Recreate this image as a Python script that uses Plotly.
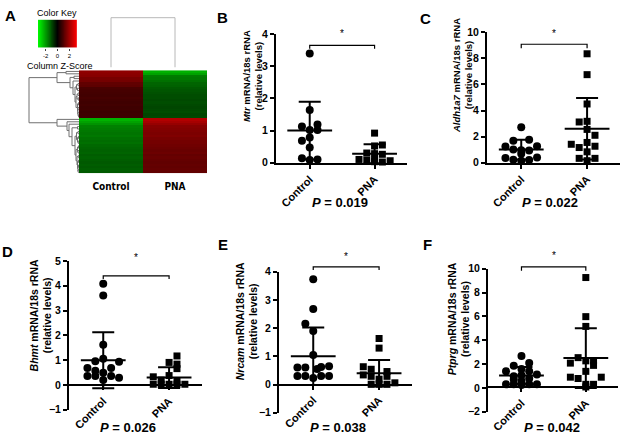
import numpy as np
import plotly.graph_objects as go

W, H = 625, 445
FONT = "Liberation Sans, Arial, sans-serif"
NARROW = "Liberation Sans Narrow, DejaVu Sans Condensed, Liberation Sans, Arial"

def px(x):
    return x / W

def py(y):
    return 1 - y / H

# ---------------- Panel A data (heatmap) ----------------
hm_cols = ["Control", "PNA"]
ctrl_top = [1.85, 1.8, 1.75, 1.55, 1.5, 1.25, 1.2, 0.95, 0.9, 0.88, 0.85, 0.9, 0.85, 0.82, 0.85, 0.8, 0.82, 0.78, 0.8, 0.8]
pna_top = [-2.3, -2.1, -1.6, -1.55, -1.45, -1.3, -1.25, -1.15, -1.1, -1.05, -1.0, -1.0, -0.95, -1.0, -0.95, -0.9, -0.95, -1.0, -0.9, -0.95]
ctrl_bot = [-2.3, -2.1, -1.9, -1.65, -1.6, -1.55, -1.5, -1.55, -1.45, -1.4, -1.45, -1.35, -1.3, -1.25, -1.3, -1.2, -1.25, -1.2, -1.15, -1.2, -1.15, -1.2, -1.15]
pna_bot = [2.3, 2.15, 1.95, 1.75, 1.7, 1.65, 1.6, 1.65, 1.55, 1.5, 1.5, 1.45, 1.4, 1.35, 1.4, 1.3, 1.35, 1.3, 1.25, 1.3, 1.25, 1.3, 1.25]
key_ticks = [-2, 0, 2]
z_lim = 3.3

# row dendrogram merges: (name, left, right, height); ints are leaf rows
row_merges = [
    ("P", 0, 1, 0.26), ("Q1", 2, 3, 0.10), ("Q4a", 5, 6, 0.02), ("Q4b", 7, 8, 0.03),
    ("Q4", "Q4a", "Q4b", 0.05), ("Q5a1", 9, 10, 0.02), ("Q5a2", 11, 12, 0.015),
    ("Q5a", "Q5a1", "Q5a2", 0.04), ("Q5b1", 13, 14, 0.01), ("Q5b2", 15, 16, 0.02),
    ("Q5b4", 18, 19, 0.01), ("Q5b3", 17, "Q5b4", 0.02), ("Q5b5", "Q5b2", "Q5b3", 0.025),
    ("Q5b", "Q5b1", "Q5b5", 0.03), ("Q5", "Q5a", "Q5b", 0.06), ("Q3", "Q4", "Q5", 0.08),
    ("Q2", 4, "Q3", 0.12), ("Q", "Q1", "Q2", 0.18), ("T", "P", "Q", 0.44),
    ("R5", 23, 24, 0.03), ("R7a", 25, 26, 0.02), ("R7b1", 27, 28, 0.01), ("R7b2", 29, 30, 0.015),
    ("R7b", "R7b1", "R7b2", 0.03), ("R7", "R7a", "R7b", 0.05),
    ("R8a1", 31, 32, 0.01), ("R8a2", 33, 34, 0.02), ("R8a", "R8a1", "R8a2", 0.03),
    ("R8b1", 35, 36, 0.015), ("R8c1", 37, 38, 0.01), ("R8c2", 39, 40, 0.01), ("R8c3", 41, 42, 0.02),
    ("R8c4", "R8c2", "R8c3", 0.02), ("R8c", "R8c1", "R8c4", 0.03), ("R8b", "R8b1", "R8c", 0.04),
    ("R8", "R8a", "R8b", 0.06), ("R6", "R7", "R8", 0.08), ("R4", "R5", "R6", 0.14),
    ("R3", 22, "R4", 0.20), ("R2", 21, "R3", 0.24), ("Bn", 20, "R2", 0.44),
    ("root", "T", "Bn", 1.0),
]
col_merges = [("c", 0, 1, 1.0)]

# ---------------- Panels B-F data ----------------
groups = ["Control", "PNA"]
genes = ["Mtr", "Aldh1a7", "Bhmt", "Nrcam", "Ptprg"]
p_values = ["0.019", "0.022", "0.026", "0.038", "0.042"]

ctrl_B = [3.40, 1.64, 1.13, 1.19, 1.02, 1.02, 0.68, 0.78, 0.47, 0.14, 0.08, 0.10]
ctrl_B_lane = [0, 0, -1, 1, 1, 0, -1, 0, 0, -1, 0, 1]
pna_B = [0.92, 0.55, 0.52, 0.30, 0.28, 0.26, 0.10, 0.08, 0.08, 0.06, 0.03, 0.02]
pna_B_lane = [0, 1, 0, -1, 0, 1, -2, -1, 0, 2, 0, 1]
mean_B = [1.0, 0.28]
sd_B = [0.9, 0.29]

ctrl_C = [2.72, 1.76, 1.68, 1.24, 1.26, 1.0, 0.96, 0.94, 0.68, 0.36, 0.40, 0.22, 0.15, 0.20]
ctrl_C_lane = [0, 1, -1, -2, 2, -1, 0, 1, 0, -2, 2, -1, 0, 1]
pna_C = [8.35, 6.75, 4.5, 3.12, 3.17, 2.55, 2.1, 1.55, 1.41, 1.26, 1.16, 0.83, 0.33, 0.33, 0.15]
pna_C_lane = [0, 0, 0, -1, 0, 0, 1, 0, -2, 1, -1, 0, -1, 1, 0]
mean_C = [1.0, 2.6]
sd_C = [0.75, 2.35]

ctrl_D = [4.08, 3.61, 1.62, 1.06, 0.96, 0.94, 0.68, 0.68, 0.57, 0.49, 0.36, 0.36, 0.36, 0.29, 0.20]
ctrl_D_lane = [0, 0, 0, 0, -1, 2, -2, 1, -1, 0, -2, -1, 1, 2, 0]
pna_D = [1.17, 0.91, 0.84, 0.66, 0.33, 0.38, 0.20, 0.18, 0.03, 0.03, 0.03, 0.03, 0.03]
pna_D_lane = [1, 0, 1, 1, -2, 0, -1, 1, -2, -1, 0, 1, 2]
mean_D = [1.0, 0.30]
sd_D = [1.13, 0.42]

ctrl_E = [3.73, 2.68, 2.15, 1.90, 1.05, 0.60, 0.60, 0.62, 0.65, 0.55, 0.30, 0.30, 0.30, 0.30, 0.23]
ctrl_E_lane = [0, 0, -1, 0, 0, -2, -1, 1, 2, 0.5, -2, -1, 1, 2, 0]
pna_E = [1.63, 1.29, 0.63, 0.54, 0.46, 0.34, 0.29, 0.29, 0.19, 0.06, 0.01, 0.01, 0.01]
pna_E_lane = [0, 0, -2, -1, 1, -2, -1, 1, 0, 2, -1, 0, 1]
mean_E = [1.0, 0.40]
sd_E = [1.02, 0.47]

ctrl_F = [2.68, 2.08, 1.86, 1.58, 1.39, 1.39, 1.07, 0.98, 1.12, 0.79, 0.71, 0.57, 0.30, 0.30, 0.30, 0.30, 0.25]
ctrl_F_lane = [0, 1, -1, 0, 1, -2, 0, -1, 2, 1, -1, 0, -2, -1, 1, 2, 0]
pna_F = [9.26, 5.98, 5.16, 2.54, 2.27, 2.08, 2.27, 1.89, 1.39, 0.79, 0.90, 0.90, 0.30, 0.30, 0.08]
pna_F_lane = [0, 0, 0, -1, 0, -2, 1, 1, 0, -1, -2, 2, 0, 1, 0]
mean_F = [1.05, 2.5]
sd_F = [0.7, 2.5]

bracket_top = [3.65, 9.08, 4.40, 4.17, 10.15]
bracket_drop = [0.10, 0.30, 0.13, 0.11, 0.33]
star_y = [4.02, 9.9, 5.15, 4.52, 11.1]
y_ranges = [[0, 4], [0, 10], [-1, 5], [-1, 4], [-2, 10]]
y_dticks = [1, 2, 1, 1, 2]

fig = go.Figure()
layout = dict(width=W, height=H, margin=dict(l=0, r=0, t=0, b=0),
              paper_bgcolor="white", plot_bgcolor="rgba(0,0,0,0)",
              showlegend=False, font=dict(family=FONT, color="black"))
annotations = []

# ---------------- Panel A ----------------
z = [[c, p] for c, p in zip(ctrl_top + ctrl_bot, pna_top + pna_bot)]
nrows = len(z)
cscale = [[0, "rgb(0,255,0)"], [0.5, "rgb(0,0,0)"], [1, "rgb(255,0,0)"]]
fig.add_trace(go.Heatmap(z=z, x=[0, 1], y=list(range(nrows)), colorscale=cscale,
                         zmin=-z_lim, zmax=z_lim, showscale=False, hoverinfo="skip",
                         xaxis="x", yaxis="y"))
layout["xaxis"] = dict(domain=[px(79), px(207)], range=[-0.5, 1.5], anchor="y",
                       tickvals=[0, 1], ticktext=["<b>%s</b>" % c for c in hm_cols],
                       tickfont=dict(family=NARROW, size=10), ticks="", showgrid=False,
                       zeroline=False, showline=False, ticklabelstandoff=6)
layout["yaxis"] = dict(domain=[py(172), py(66)], range=[nrows - 0.5, -0.5], anchor="x",
                       showticklabels=False, ticks="", showgrid=False, zeroline=False)


def dendro_segments(merges):
    pos, hgt = {}, {}
    xs, ys = [], []
    def get(k):
        if isinstance(k, int):
            return float(k), 0.0
        return pos[k], hgt[k]
    for name, l, r, h in merges:
        pl, hl = get(l)
        pr, hr = get(r)
        xs += [hl, h, h, hr, None]
        ys += [pl, pl, pr, pr, None]
        pos[name] = (pl + pr) / 2
        hgt[name] = h
    return xs, ys

rx, ry = dendro_segments(row_merges)
fig.add_trace(go.Scatter(x=rx, y=ry, mode="lines", line=dict(color="#707070", width=1),
                         xaxis="x2", yaxis="y2", hoverinfo="skip"))
layout["xaxis2"] = dict(domain=[px(28), px(79)], range=[1.02, 0.0], anchor="y2", visible=False)
layout["yaxis2"] = dict(domain=[py(172), py(66)], range=[nrows - 0.5, -0.5], anchor="x2", visible=False)

cx, cy = dendro_segments(col_merges)
fig.add_trace(go.Scatter(x=cy, y=cx, mode="lines", line=dict(color="#b8b8b8", width=1),
                         xaxis="x3", yaxis="y3", hoverinfo="skip"))
layout["xaxis3"] = dict(domain=[px(79), px(207)], range=[-0.5, 1.5], anchor="y3", visible=False)
layout["yaxis3"] = dict(domain=[py(66), py(11)], range=[-0.06, 1.02], anchor="x3", visible=False)

key_vals = np.linspace(-z_lim, z_lim, 120)
fig.add_trace(go.Heatmap(z=[key_vals], x=key_vals, y=[0], colorscale=cscale, zmin=-z_lim,
                         zmax=z_lim, showscale=False, hoverinfo="skip", xaxis="x4", yaxis="y4"))
layout["xaxis4"] = dict(domain=[px(38), px(77)], range=[-z_lim, z_lim], anchor="y4",
                        tickvals=key_ticks, ticktext=[str(t) for t in key_ticks],
                        tickfont=dict(size=6), ticks="outside", ticklen=2, tickwidth=0.6,
                        showgrid=False, zeroline=False, showline=False)
layout["yaxis4"] = dict(domain=[py(43), py(14)], range=[-0.5, 0.5], anchor="x4", visible=False)
annotations.append(dict(text="Color Key", x=px(57), y=py(7), xref="paper", yref="paper",
                        showarrow=False, font=dict(size=9), xanchor="center", yanchor="middle"))
annotations.append(dict(text="Column Z-Score", x=px(60), y=py(62), xref="paper", yref="paper",
                        showarrow=False, font=dict(size=9), xanchor="center", yanchor="middle"))

# ---------------- Panels B-F ----------------
panel_letters = ["B", "C", "D", "E", "F"]
dom_x = [(276, 407), (487, 620), (69, 202), (279, 412), (488, 618)]
dom_y = [(29, 161), (27, 161), (262, 415), (273, 418), (270, 417)]
zero_y = [None, None, 390, 389, 392]
title_pos = [(252, 72), (462, 72), (41, 318), (247, 324), (459, 322)]
title_size = [9.5, 9.5, 10.5, 10.5, 10.5]
p_pos = [(340, 202), (550, 202), (128, 433), (338, 433), (552, 433)]
letter_pos = [(222, 12), (425, 13), (7, 252), (223, 245), (427, 245)]
extra_top = 40  # extra headroom (px) of the overlay axis used for brackets/stars

ctrl_sets = [(ctrl_B, ctrl_B_lane), (ctrl_C, ctrl_C_lane), (ctrl_D, ctrl_D_lane), (ctrl_E, ctrl_E_lane), (ctrl_F, ctrl_F_lane)]
pna_sets = [(pna_B, pna_B_lane), (pna_C, pna_C_lane), (pna_D, pna_D_lane), (pna_E, pna_E_lane), (pna_F, pna_F_lane)]
means = [mean_B, mean_C, mean_D, mean_E, mean_F]
sds = [sd_B, sd_C, sd_D, sd_E, sd_F]
lane_w = 0.12
x_range = [0.48, 2.5]

for i in range(5):
    n = i + 5
    xa, ya = "x%d" % n, "y%d" % n
    m = n + 5
    xo, yo = "x%d" % m, "y%d" % m
    (cv, cl), (pv, pl) = ctrl_sets[i], pna_sets[i]
    fig.add_trace(go.Scatter(x=[1 + l * lane_w for l in cl], y=cv, mode="markers",
                             marker=dict(symbol="circle", size=8, color="black"),
                             xaxis=xa, yaxis=ya, cliponaxis=False, hoverinfo="skip"))
    fig.add_trace(go.Scatter(x=[2 + l * lane_w for l in pl], y=pv, mode="markers",
                             marker=dict(symbol="square", size=7, color="black"),
                             xaxis=xa, yaxis=ya, cliponaxis=False, hoverinfo="skip"))
    fig.add_trace(go.Scatter(x=[1, 2], y=means[i], mode="markers",
                             marker=dict(symbol="line-ew", size=32, color="black",
                                         line=dict(width=2, color="black")),
                             error_y=dict(type="data", array=sds[i], width=11,
                                          thickness=2, color="black"),
                             xaxis=xa, yaxis=ya, cliponaxis=False, hoverinfo="skip"))
    # overlay axis with the same scale but extra headroom, for bracket and star
    r0, r1 = y_ranges[i]
    top, bot = dom_y[i]
    k = (bot - top) / (r1 - r0)
    extra = min(extra_top, top)
    bt, bd = bracket_top[i], bracket_drop[i]
    fig.add_trace(go.Scatter(x=[1, 1, 2, 2], y=[bt - bd, bt, bt, bt - bd], mode="lines",
                             line=dict(color="black", width=1.2), xaxis=xo, yaxis=yo,
                             hoverinfo="skip"))
    annotations.append(dict(text="*", x=1.5, y=star_y[i], xref=xo, yref=yo, showarrow=False,
                            font=dict(size=10), xanchor="center", yanchor="middle"))
    layout["xaxis%d" % m] = dict(domain=[px(dom_x[i][0]), px(dom_x[i][1])], range=x_range,
                                 anchor=yo, visible=False)
    layout["yaxis%d" % m] = dict(domain=[py(bot), py(top - extra)],
                                 range=[r0, r1 + extra / k], anchor=xo, visible=False)

    xd = dict(domain=[px(dom_x[i][0]), px(dom_x[i][1])], range=x_range,
              tickvals=[1, 2], ticktext=["<b>%s</b>" % g for g in groups],
              tickangle=-45, tickfont=dict(size=11), ticks="outside", ticklen=4,
              tickwidth=1.5, tickcolor="black", showline=True, linecolor="black",
              linewidth=2, showgrid=False, zeroline=False)
    if zero_y[i] is None:
        xd["anchor"] = ya
    else:
        xd["anchor"] = "free"
        xd["position"] = py(zero_y[i])
    layout["xaxis%d" % n] = xd
    layout["yaxis%d" % n] = dict(domain=[py(bot), py(top)], range=y_ranges[i],
                                 dtick=y_dticks[i], anchor=xa, showline=True, linecolor="black",
                                 linewidth=2, ticks="outside", ticklen=4, tickwidth=1.5,
                                 tickcolor="black", tickfont=dict(size=10.5),
                                 tickprefix="<b>", ticksuffix="</b>",
                                 showgrid=False, zeroline=False)
    annotations.append(dict(text="<b><i>%s</i> mRNA/18s rRNA<br>(relative levels)</b>" % genes[i],
                            x=px(title_pos[i][0]), y=py(title_pos[i][1]), xref="paper", yref="paper",
                            textangle=-90, showarrow=False, font=dict(size=title_size[i]),
                            xanchor="center", yanchor="middle"))
    annotations.append(dict(text="<b><i>P</i> = %s</b>" % p_values[i],
                            x=px(p_pos[i][0]), y=py(p_pos[i][1]), xref="paper", yref="paper",
                            showarrow=False, font=dict(size=13), xanchor="center", yanchor="middle"))
    annotations.append(dict(text="<b>%s</b>" % panel_letters[i], x=px(letter_pos[i][0]),
                            y=py(letter_pos[i][1]), xref="paper", yref="paper", showarrow=False,
                            font=dict(size=15), xanchor="center", yanchor="middle"))

annotations.append(dict(text="<b>A</b>", x=px(10), y=py(10), xref="paper", yref="paper",
                        showarrow=False, font=dict(size=15), xanchor="center", yanchor="middle"))
annotations.append(dict(text="-2", x=1.2, y=-0.25, xref="x5", yref="y5", showarrow=False,
                        font=dict(size=5), xanchor="center", yanchor="middle"))

layout["annotations"] = annotations
fig.update_layout(**layout)
fig.write_html("out.html", config={"displayModeBar": False},
               post_script="document.body.style.margin='0';document.body.style.padding='0';")
